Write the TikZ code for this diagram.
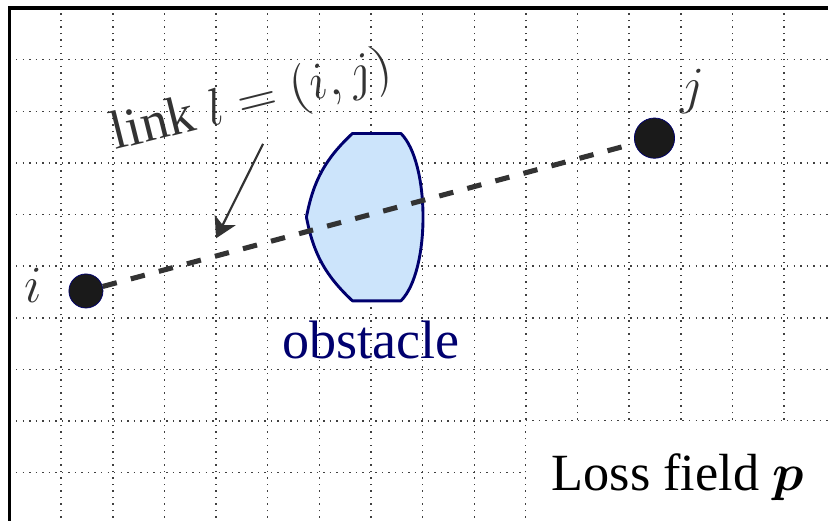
\documentclass[tikz,border=0pt]{standalone}
\usepackage{amsmath,amssymb}
\usepackage{fontspec}
\setmainfont{Liberation Serif}
\usepackage{tikz}
\usetikzlibrary{positioning,arrows.meta,calc}
\definecolor{obstaclefill}{RGB}{204,228,251}
\definecolor{obstacledraw}{RGB}{0,0,110}
\definecolor{linkcolor}{RGB}{51,51,51}
\definecolor{dotcolor}{RGB}{26,26,26}
\tikzset{
  grid line/.style={
    draw=black!75,
    line width=0.4pt,
    dash pattern=on 0.4pt off 1.4pt
  },
  sensor node/.style={
    circle,
    fill=dotcolor,
    draw=obstacledraw,
    line width=0.2pt,
    inner sep=0pt
  },
  link path/.style={
    draw=linkcolor,
    line width=1.4pt,
    dash pattern=on 4pt off 4pt
  },
  pointer/.style={
    draw=linkcolor,
    line width=0.6pt,
    -{Stealth[length=5.6pt,width=6.4pt,inset=1.5pt]}
  },
  obstacle shape/.style={
    draw=obstacledraw,
    fill=obstaclefill,
    line width=0.8pt,
    line join=round
  },
  big label/.style={font=\Large, inner sep=0pt}
}

\begin{document}
\begin{tikzpicture}[x=0.5cm,y=0.5cm]
  \useasboundingbox (-0.184,0.155) rectangle (15.85,-9.934);
  \clip (-0.184,0.155) rectangle (15.85,-9.934);

  % Grid and frame
  \draw[grid line, step=1] (0,0) grid (16,-10);
  \fill[white] (10,-8) rectangle (16.5,-10.5);
  \draw[line width=1pt] (0,0) rectangle (16,-10);

  % Obstacle
  \draw[obstacle shape] (6.64,-2.43) to[bend right=18] (5.75,-4.05)
    to[bend right=18] (6.64,-5.67) -- (7.58,-5.67)
    .. controls (8.15,-5.1) and (8.15,-3.0) .. (7.58,-2.43) -- cycle;
  \node[big label, font=\fontsize{14.9}{18}\selectfont, text=obstacledraw, anchor=base] (obst) at (7.0,-6.78) {obstacle};

  % Nodes of the link
  \node[sensor node, minimum size=0.33cm] (i) at (1.48,-5.48) {};
  \node[sensor node, minimum size=0.39cm] (j) at (12.49,-2.52) {};
  \node[big label, text=linkcolor, anchor=base] (ilbl) at (0.465,-5.71) {$i$};
  \node[big label, text=linkcolor, anchor=base] (jlbl) at (13.22,-1.84) {$j$};

  % Link
  \draw[link path] (i) -- (j);

  % Label of the link
  \node[big label, font=\fontsize{15}{18}\selectfont, text=linkcolor, rotate=14] (linklbl) at (4.70,-1.83) {link $l=(i,j)$};
  \coordinate (lnkfrom) at (4.91,-2.63);
  \coordinate (lnkto) at (4.0,-4.46);
  \draw[pointer] (lnkfrom) -- (lnkto);

  % Field
  \node[big label, anchor=base] (field) at (12.94,-9.35) {Loss field $\boldsymbol{p}$};
\end{tikzpicture}
\end{document}
